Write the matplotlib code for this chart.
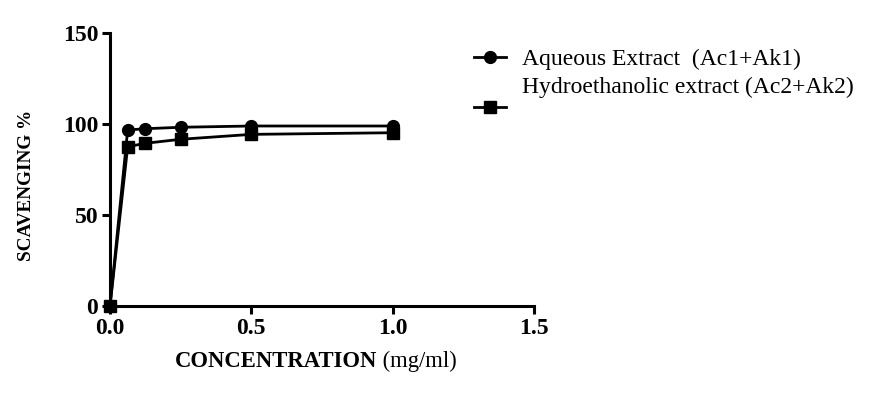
import matplotlib
matplotlib.use("Agg")
import matplotlib.pyplot as plt

plt.rcParams['font.family'] = ['Liberation Serif', 'DejaVu Serif']

# concentration (mg/ml) and scavenging %
conc = [0, 0.0625, 0.125, 0.25, 0.5, 1.0]
aqueous = [0, 96.7, 97.4, 98.2, 98.9, 98.9]
hydro = [0, 87.5, 89.4, 91.6, 94.3, 95.2]
# trailing newline keeps the square marker sitting below its text, like the original
labels = ['Aqueous Extract  (Ac1+Ak1)', 'Hydroethanolic extract (Ac2+Ak2)\n']

fig = plt.figure(figsize=(8.71, 3.95), dpi=100)
ax = fig.add_axes([0.1263, 0.2253, 0.4868, 0.6912])

ax.plot(conc, aqueous, color='black', lw=2, marker='o', ms=8.5, clip_on=False, label=labels[0])
ax.plot(conc, hydro, color='black', lw=2, marker='s', ms=8, clip_on=False, label=labels[1])

ax.set_xlim(0, 1.5)
ax.set_ylim(0, 150)
ax.set_xticks([0.0, 0.5, 1.0, 1.5])
ax.set_xticklabels(['0.0', '0.5', '1.0', '1.5'])
ax.set_yticks([0, 50, 100, 150])

for s in ['top', 'right']:
    ax.spines[s].set_visible(False)
for s in ['left', 'bottom']:
    ax.spines[s].set_linewidth(2.2)
ax.tick_params(width=2.2, length=6, labelsize=17, pad=2.5)
for t in ax.get_xticklabels() + ax.get_yticklabels():
    t.set_fontweight('bold')

ax.set_ylabel('SCAVENGING %', fontsize=13.8, fontweight='bold')
ax.yaxis.set_label_coords(-0.176, 0.443)

t1 = fig.text(0.201, 0.07, 'CONCENTRATION', fontsize=16.3, fontweight='bold', va='baseline')
ax.annotate(' (mg/ml)', xy=(1, 0), xycoords=t1, va='bottom', fontsize=16.3)

leg = ax.legend(loc='upper left', bbox_to_anchor=(0.52, 0.93), bbox_transform=fig.transFigure,
                frameon=False, fontsize=17, handlelength=1.36, handletextpad=0.68, labelspacing=0.28)
for t in leg.get_texts():
    t.set_linespacing(2.1)

fig.savefig('out.png', dpi=100)
